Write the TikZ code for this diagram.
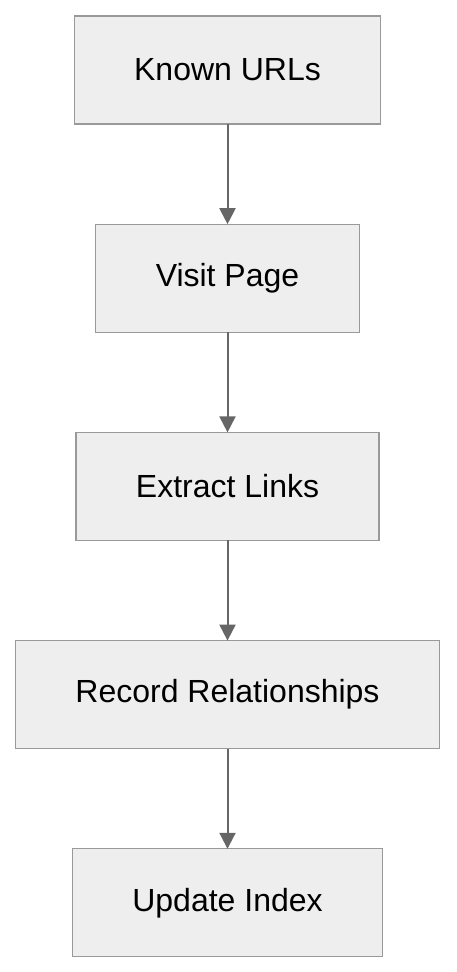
\documentclass[tikz,border=0pt]{standalone}
\usepackage{fontspec}
\setmainfont{Liberation Sans}
\usetikzlibrary{positioning,arrows.meta}
\definecolor{boxfill}{HTML}{EEEEEE}
\definecolor{boxline}{HTML}{999999}
\definecolor{arrowline}{HTML}{666666}
\begin{document}
\begin{tikzpicture}[
  node distance=50.1pt,
  stepbox/.style={draw=boxline, fill=boxfill, line width=0.6pt,
    minimum height=54pt, inner xsep=30pt, outer sep=0pt,
    font=\fontsize{16}{19}\selectfont},
  flow/.style={draw=arrowline, line width=1pt,
    -{Triangle[width=8pt,length=8pt]}}
]
\useasboundingbox (0,0) rectangle (228pt,-486pt);
% process steps
\node[stepbox] (known) at (113.75pt,-35pt) {Known URLs};
\node[stepbox, below=of known]   (visit)   {Visit Page};
\node[stepbox, below=of visit]   (extract) {Extract Links};
\node[stepbox, below=of extract] (record)  {Record Relationships};
\node[stepbox, below=of record]  (update)  {Update Index};
% connectors
\draw[flow] (known)   -- (visit);
\draw[flow] (visit)   -- (extract);
\draw[flow] (extract) -- (record);
\draw[flow] (record)  -- (update);
\end{tikzpicture}
\end{document}
